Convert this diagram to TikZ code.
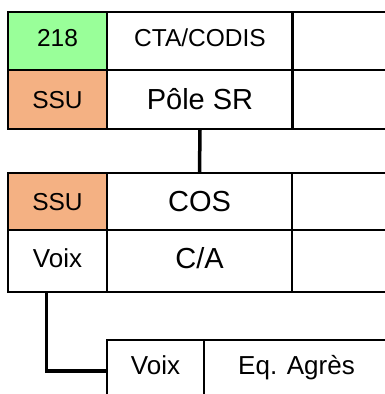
\documentclass[tikz,border=0pt]{standalone}
\usepackage{fontspec}
\setmainfont{Liberation Sans}
\usetikzlibrary{calc}

\definecolor{vertnum}{RGB}{153,255,153}
\definecolor{orangessu}{RGB}{244,177,131}

\begin{document}
\begin{tikzpicture}[x=1bp,y=-1bp,
	cell/.style={draw,line width=2bp,anchor=north west,inner sep=0pt,text depth=0pt},
	petit/.style={font=\fontsize{24.5bp}{28bp}\selectfont,text height=17.5bp},
	moyen/.style={font=\fontsize{26bp}{30bp}\selectfont,text height=18.6bp},
	grand/.style={font=\fontsize{29bp}{33bp}\selectfont,text height=20.8bp},
	lien/.style={draw,line width=3.5bp}]
\useasboundingbox (0,0) rectangle (385,394);
% CTA / CODIS
\node [cell,petit,text depth=7bp,fill=vertnum,minimum width=99bp,minimum height=58bp] (n218) at (7,11) {218};
\node [cell,petit,text depth=7bp,minimum width=186bp,minimum height=58bp] (cta) at (106,11) {CTA/CODIS};
\node [cell,minimum width=140bp,minimum height=58bp] (vide1) at (292,11) {};
\node [cell,petit,fill=orangessu,minimum width=99bp,minimum height=59bp] (ssu1) at (7,69) {SSU};
\node [cell,grand,minimum width=186bp,minimum height=59bp] (pole) at (106,69) {Pôle SR};
\node [cell,minimum width=140bp,minimum height=59bp] (vide2) at (292,69) {};
\draw [line width=3bp] (vide1.north west) -- (vide2.south west);
% COS
\node [cell,petit,fill=orangessu,minimum width=99bp,minimum height=57bp] (ssu2) at (7,172) {SSU};
\node [cell,grand,minimum width=185bp,minimum height=57bp] (cos) at (106,172) {COS};
\node [cell,minimum width=140bp,minimum height=57bp] (vide3) at (291,172) {};
\node [cell,moyen,text depth=5bp,minimum width=99bp,minimum height=62bp] (voix1) at (7,229) {Voix};
\node [cell,grand,text depth=5bp,minimum width=185bp,minimum height=62bp] (ca) at (106,229) {C/A};
\node [cell,minimum width=140bp,minimum height=62bp] (vide4) at (291,229) {};
% agres
\node [cell,moyen,text depth=11bp,minimum width=97bp,minimum height=62bp] (voix2) at (106,339) {Voix};
\node [cell,moyen,text depth=11bp,minimum width=185bp,minimum height=62bp] (agres) at (203,339) {Eq. Agrès};

\draw [lien] (pole.south) -- (cos.north);
\draw [lien] ($(voix1.south west)!0.39!(voix1.south east)$) |- (voix2.west);
\end{tikzpicture}
\end{document}
